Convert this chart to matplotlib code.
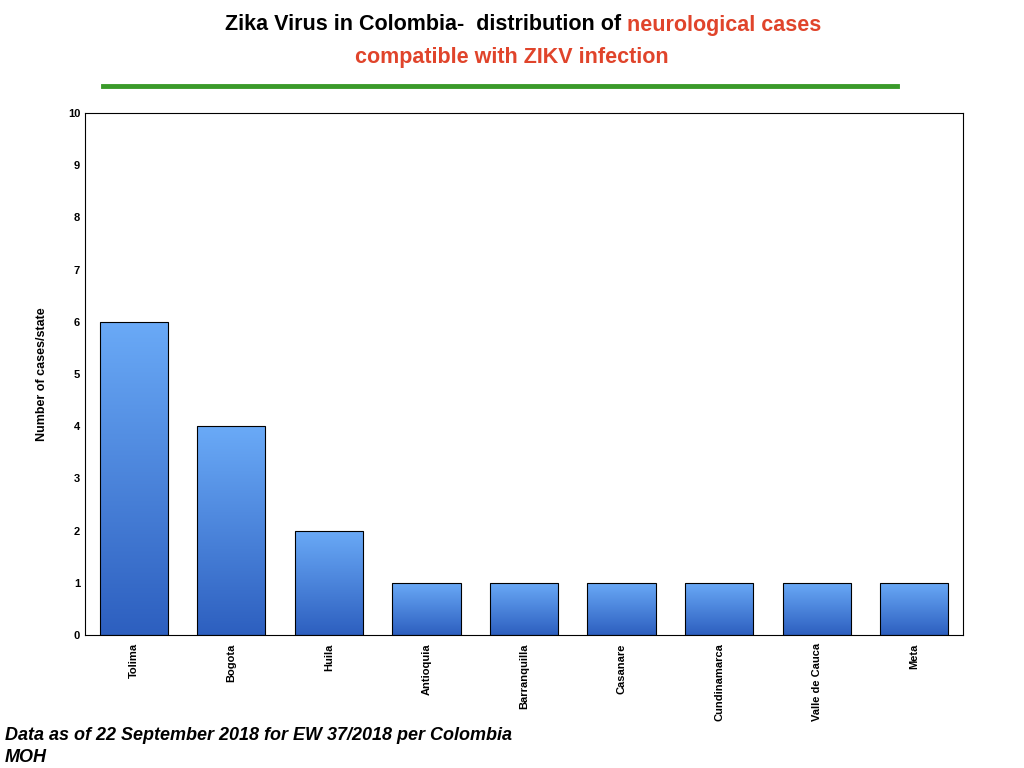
import matplotlib
matplotlib.use("Agg")
import matplotlib.pyplot as plt
import numpy as np
from matplotlib.patches import Rectangle

plt.rcParams['font.family'] = ['Liberation Sans', 'DejaVu Sans']

states = ["Tolima", "Bogota", "Huila", "Antioquia", "Barranquilla", "Casanare",
          "Cundinamarca", "Valle de Cauca", "Meta"]
cases = [6, 4, 2, 1, 1, 1, 1, 1, 1]

fig = plt.figure(figsize=(10.24, 7.68), dpi=100)
ax = fig.add_axes([85/1024, 1-635/768, (963-85)/1024, (635-113)/768])

grad = np.linspace(0, 1, 256).reshape(-1, 1)
from matplotlib.colors import LinearSegmentedColormap
cmap = LinearSegmentedColormap.from_list("g", ["#2d5fbf", "#6aaaf7"])
x = np.arange(len(states))
w = 0.7
for xi, v in zip(x, cases):
    im = ax.imshow(grad, extent=[xi - w/2, xi + w/2, 0, v], origin='lower',
                   cmap=cmap, aspect='auto', zorder=2)
    r = Rectangle((xi - w/2, 0), w, v, facecolor='none', edgecolor='black', lw=0.8, zorder=3)
    ax.add_patch(r)
    im.set_clip_path(r)

ax.set_xlim(-0.5, len(states) - 0.5)
ax.set_ylim(0, 10)
ax.set_yticks(range(0, 11))
ax.set_xticks(x)
ax.set_xticklabels(states, rotation=90, fontsize=8, fontweight='bold', va='top')
ax.tick_params(axis='y', labelsize=8, length=0)
for lbl in ax.get_yticklabels():
    lbl.set_fontweight('bold')
ax.tick_params(axis='x', length=0, pad=6)
ax.set_ylabel("Number of cases/state", fontsize=9, fontweight='bold', labelpad=14)
for s in ax.spines.values():
    s.set_linewidth(0.8)

red = "#e0442b"
fig.text(0.612, 1-25/768, "Zika Virus in Colombia-  distribution of ", ha='right', va='center',
         fontsize=15.5, fontweight='bold', color='black')
fig.text(0.612, 1-25/768, "neurological cases", ha='left', va='center',
         fontsize=15.5, fontweight='bold', color=red)
fig.text(0.5, 1-57/768, "compatible with ZIKV infection", ha='center', va='center',
         fontsize=15.5, fontweight='bold', color=red)
fig.add_artist(plt.Line2D([103/1024, 897/1024], [1-86/768, 1-86/768], color="#3a9a2a", lw=3.5))

fig.text(5/1024, 1-735/768, "Data as of 22 September 2018 for EW 37/2018 per Colombia",
         ha='left', va='center', fontsize=13, fontweight='bold', style='italic')
fig.text(5/1024, 1-758/768, "MOH", ha='left', va='center', fontsize=13,
         fontweight='bold', style='italic')

fig.savefig("out.png", dpi=100)
